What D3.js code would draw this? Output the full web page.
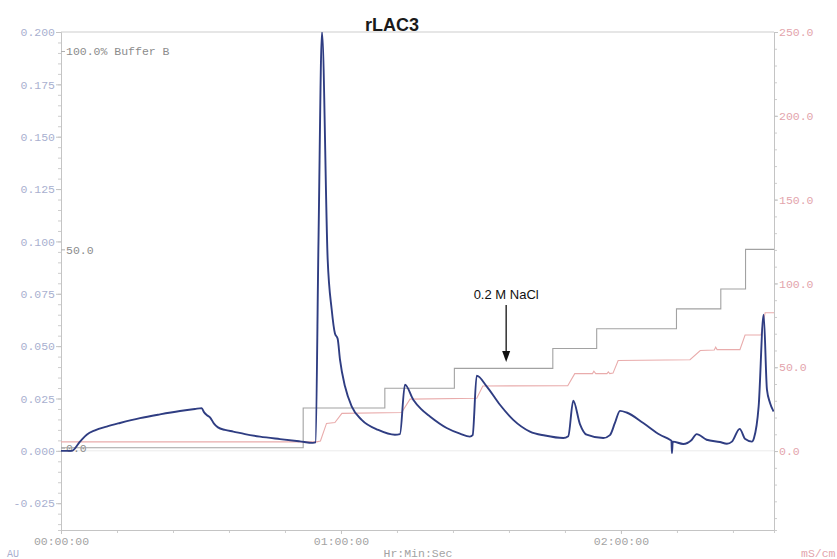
<!DOCTYPE html>
<html>
<head>
<meta charset="utf-8">
<script src="https://cdn.jsdelivr.net/npm/d3@7"></script>
<style>
  body { margin: 0; background: #fff; }
  svg text { font-family: "Liberation Mono", "DejaVu Sans Mono", monospace; }
</style>
</head>
<body>
<svg id="chart" width="837" height="559"></svg>
<script>
// UV absorbance trace, [minutes, AU]
const uvTrace = [
  [0, 0], [2.29, 0], [4.07, 0.0044], [5.51, 0.0077], [7.29, 0.0098], [9.79, 0.0116],
  [12.64, 0.0133], [16.93, 0.0156], [21.21, 0.0174], [25.5, 0.019], [28.71, 0.02],
  [30.15, 0.0204], [30.64, 0.0185], [31.29, 0.017], [31.93, 0.016], [32.79, 0.013],
  [33.64, 0.0112], [35.14, 0.01], [36.92, 0.0092], [39.43, 0.008], [42.64, 0.0068],
  [46.93, 0.0056], [51.21, 0.0045], [54.0, 0.0038], [54.54, 0.004], [55.18, 0.1],
  [55.93, 0.2], [57.15, 0.0914], [58.01, 0.0675], [58.71, 0.056], [59.29, 0.0535],
  [59.79, 0.0435], [60.86, 0.0308], [62.29, 0.0212], [64.44, 0.0148], [67.99, 0.01],
  [71.57, 0.0077], [72.64, 0.008], [73.71, 0.0316], [75.49, 0.0244], [77.14, 0.02],
  [79.07, 0.0164], [82.65, 0.0109], [85.5, 0.0082], [87.64, 0.0068], [88.22, 0.0075],
  [89.08, 0.0359], [91.22, 0.0308], [94.07, 0.022], [96.92, 0.0148], [100.5, 0.0092],
  [103.71, 0.0073], [107.64, 0.0061], [108.71, 0.007], [109.78, 0.0239], [111.21, 0.0128],
  [112.65, 0.0077], [116.21, 0.0061], [117.64, 0.0075], [118.71, 0.0133], [119.79, 0.0191],
  [121.22, 0.0183], [124.78, 0.0133], [128.36, 0.0077], [130.5, 0.0053], [130.82, 0.0048],
  [130.93, -0.0011], [131.1, 0.0044], [133.35, 0.0033], [135.15, 0.0052], [136.22, 0.008],
  [138.36, 0.0053], [141.21, 0.0042], [142.71, 0.0034], [143.79, 0.0044], [145.44, 0.0105],
  [146.64, 0.0056], [148.07, 0.0044], [148.5, 0.006], [149.51, 0.0212], [150.58, 0.065],
  [151.29, 0.0292], [151.93, 0.023], [152.72, 0.0188]
];

// conductivity, [minutes, mS/cm]
const conductivity = [
  [0, 5.5], [54.8, 5.5], [55.6, 6], [56.9, 16.5], [58.7, 17], [60.2, 22.5], [73.0, 23],
  [74.8, 31], [89.1, 31.5], [90.4, 38.8], [108.6, 39], [110.1, 46.2], [113.9, 46.2],
  [114.2, 47.6], [114.6, 46.2], [117.0, 46.2], [117.3, 47.2], [117.6, 46.2], [118.3, 46.5],
  [119.4, 54], [134.8, 54.5], [137.0, 60], [140.0, 60.3], [140.3, 62], [140.6, 60.5],
  [145.5, 60.5], [146.6, 69.2], [150.0, 69.2], [150.9, 82.5], [152.8, 82.5]
];

// gradient steps, [minutes, % Buffer B]
const bufferB = [
  [0, 0], [51.9, 10], [69.4, 15], [84.3, 20], [105.4, 25], [114.8, 30],
  [131.9, 35], [141.4, 40], [146.7, 50], [152.8, 50]
];

const auTicks = [-0.025, 0, 0.025, 0.05, 0.075, 0.1, 0.125, 0.15, 0.175, 0.2];
const msTicks = [0, 50, 100, 150, 200, 250];
const bTicks = [0, 50, 100];
const timeTicks = [0, 60, 120];
const timeLabels = ["00:00:00", "01:00:00", "02:00:00"];

let svg = d3.select("#chart");
let mLeft = 61, mRight = 774, mTop = 32, mBottom = 530;

let x = d3.scaleLinear().domain([0, 152.8]).range([mLeft, mRight]);
let yAU = d3.scaleLinear().domain([-0.0378, 0.2]).range([mBottom, mTop]);
let yMS = d3.scaleLinear().domain([-47.1, 250]).range([mBottom, mTop]);
let yB = d3.scaleLinear().domain([0, 100]).range([447.7, 51]);

function paint(g, lineColor, textColor) {
  g.selectAll("path.domain").attr("stroke", lineColor);
  g.selectAll(".tick line").attr("stroke", lineColor);
  g.selectAll(".tick text").attr("fill", textColor).attr("font-size", "11.5px")
    .attr("font-family", "Liberation Mono, monospace");
}

svg.append("clipPath").attr("id", "plot")
  .append("rect").attr("x", mLeft).attr("y", mTop)
  .attr("width", mRight - mLeft).attr("height", mBottom - mTop);

// frame + zero line
svg.append("line").attr("x1", mLeft).attr("x2", mRight).attr("y1", mTop).attr("y2", mTop)
  .attr("stroke", "#cdcdcd");
svg.append("line").attr("x1", mLeft).attr("x2", mRight)
  .attr("y1", yAU(0)).attr("y2", yAU(0)).attr("stroke", "#ebebeb");

// minor ticks
svg.append("g").attr("transform", `translate(${mLeft},0)`)
  .call(d3.axisLeft(yAU).tickValues(d3.range(-0.035, 0.2001, 0.005)).tickSize(3).tickFormat(""))
  .call(g => paint(g, "#cdcdcd", "none"));
svg.append("g").attr("transform", `translate(${mRight},0)`)
  .call(d3.axisRight(yMS).tickValues(d3.range(-40, 251, 10)).tickSize(3).tickFormat(""))
  .call(g => paint(g, "#cdcdcd", "none"));
svg.append("g").attr("transform", `translate(0,${mBottom})`)
  .call(d3.axisBottom(x).tickValues(d3.range(0, 153, 12)).tickSize(3).tickFormat(""))
  .call(g => paint(g, "#cdcdcd", "none"));

// main axes
svg.append("g").attr("transform", `translate(${mLeft},0)`)
  .call(d3.axisLeft(yAU).tickValues(auTicks).tickSize(5).tickSizeOuter(0).tickPadding(1)
    .tickFormat(d => d3.format(".3f")(d).replace("\u2212", "-")))
  .call(g => paint(g, "#c4c4c4", "#a9b0cf"));

svg.append("g").attr("transform", `translate(${mRight},0)`)
  .call(d3.axisRight(yMS).tickValues(msTicks).tickSize(4).tickSizeOuter(0).tickPadding(1)
    .tickFormat(d3.format(".1f")))
  .call(g => paint(g, "#c4c4c4", "#e3a4ac"));

svg.append("g").attr("transform", `translate(0,${mBottom})`)
  .call(d3.axisBottom(x).tickValues(timeTicks).tickSize(4).tickSizeOuter(0).tickPadding(3)
    .tickFormat((d, i) => timeLabels[i]))
  .call(g => paint(g, "#c4c4c4", "#a3a3a3"));

svg.append("g").attr("transform", `translate(${mLeft},0)`)
  .call(d3.axisRight(yB).tickValues(bTicks).tickSize(4).tickPadding(1)
    .tickFormat(d => d === 100 ? "100.0% Buffer B" : d3.format(".1f")(d)))
  .call(g => g.select("path.domain").remove())
  .call(g => paint(g, "#b0b0b0", "#8c8c8c"));

// traces
let plot = svg.append("g").attr("clip-path", "url(#plot)");

plot.append("path").datum(bufferB)
  .attr("fill", "none").attr("stroke", "#a2a2a2").attr("stroke-width", 1.1)
  .attr("d", d3.line().x(d => x(d[0])).y(d => yB(d[1])).curve(d3.curveStepAfter));

plot.append("path").datum(conductivity)
  .attr("fill", "none").attr("stroke", "#e9acac").attr("stroke-width", 1.1)
  .attr("d", d3.line().x(d => x(d[0])).y(d => yMS(d[1])));

plot.append("path").datum(uvTrace)
  .attr("fill", "none").attr("stroke", "#2f3d82").attr("stroke-width", 1.9)
  .attr("stroke-linejoin", "round")
  .attr("d", d3.line().x(d => x(d[0])).y(d => yAU(d[1])).curve(d3.curveMonotoneX));

// salt annotation
let ax = x(95.4);
svg.append("text").attr("x", ax).attr("y", 299).attr("text-anchor", "middle")
  .style("font-family", "Liberation Sans, Arial, sans-serif").attr("font-size", "13px")
  .attr("fill", "#111").text("0.2 M NaCl");
svg.append("line").attr("x1", ax).attr("x2", ax).attr("y1", 305).attr("y2", 353)
  .attr("stroke", "#111").attr("stroke-width", 1.3);
svg.append("path").attr("d", `M${ax - 4},351 L${ax + 4},351 L${ax},362 Z`).attr("fill", "#111");

// titles
svg.append("text").attr("x", 392).attr("y", 30.5).attr("text-anchor", "middle")
  .style("font-family", "Liberation Sans, Arial, sans-serif").attr("font-size", "18px")
  .attr("font-weight", "bold").attr("fill", "#1a1a1a").text("rLAC3");

svg.append("text").attr("x", 7).attr("y", 557).attr("font-size", "10px")
  .attr("fill", "#a9b0cf").text("AU");
svg.append("text").attr("x", 418).attr("y", 557).attr("text-anchor", "middle")
  .attr("font-size", "11.5px").attr("fill", "#a3a3a3").text("Hr:Min:Sec");
svg.append("text").attr("x", 801).attr("y", 557)
  .attr("font-size", "11.5px").attr("fill", "#e3a4ac").text("mS/cm");
</script>
</body>
</html>
